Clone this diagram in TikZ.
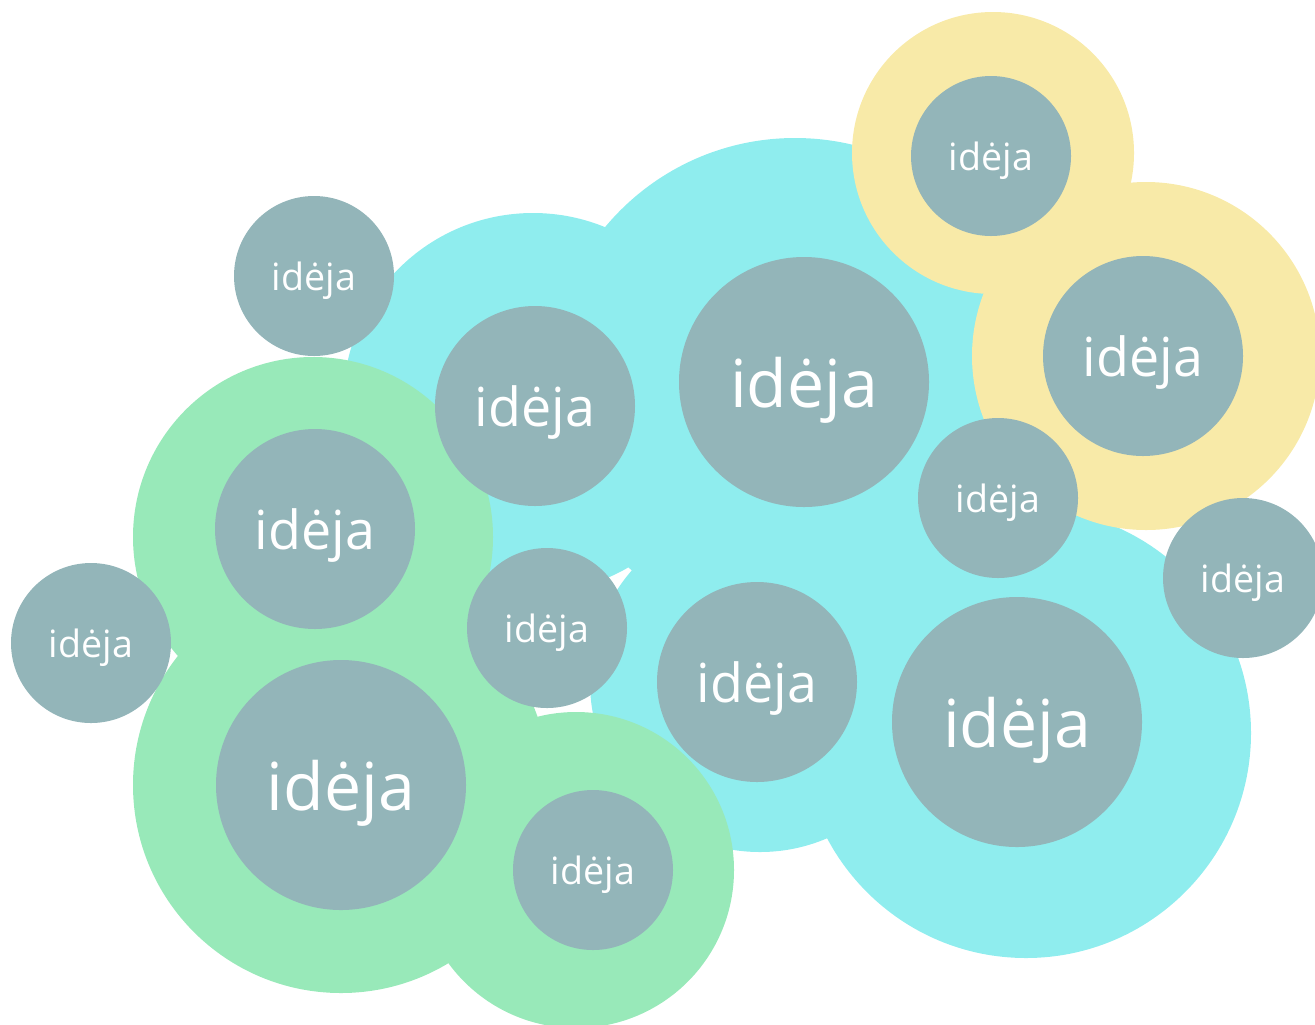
\documentclass[tikz,border=0pt]{standalone}
\usepackage{fontspec}
\setmainfont{Open Sans}
\usetikzlibrary{positioning}

\definecolor{ideagrey}{RGB}{147,181,185}
\definecolor{cloudcyan}{RGB}{143,237,238}
\definecolor{cloudgreen}{RGB}{152,233,185}
\definecolor{cloudyellow}{RGB}{248,234,168}

\begin{document}
\begin{tikzpicture}[x=0.5pt, y=-0.5pt,
    blob/.style={circle, inner sep=0pt, outer sep=0pt},
    cyanblob/.style={blob, fill=cloudcyan},
    greenblob/.style={blob, fill=cloudgreen},
    yellowblob/.style={blob, fill=cloudyellow},
    idea/.style={circle, fill=ideagrey, text=white, inner sep=0pt, text depth=0pt},
    ideaS/.style={idea, minimum size=160pt*0.5, font=\fontsize{18.8}{20}\selectfont},
    ideaM/.style={idea, minimum size=200pt*0.5, font=\fontsize{26.9}{28}\selectfont},
    ideaL/.style={idea, minimum size=250pt*0.5, font=\fontsize{33.1}{35}\selectfont}]
    \useasboundingbox (0,0) rectangle (1315,1024);
    \clip (0,0) rectangle (1315,1024);
    % cyan cloud
    \node[cyanblob, minimum size=247pt] (c1) at (795,385) {};
    \node[cyanblob, minimum size=190pt] (c2) at (533,403) {};
    \node[cyanblob, minimum size=170pt] (c3) at (760,682) {};
    \node[cyanblob, minimum size=225pt] (c4) at (1026,733) {};
    % yellow and green groups
    \node[yellowblob, minimum size=141pt] (y1) at (993,153) {};
    \node[yellowblob, minimum size=174pt] (y2) at (1146,356) {};
    \node[greenblob, minimum size=180pt] (g1) at (313,537) {};
    \node[greenblob, minimum size=208pt] (g2) at (341,785) {};
    \node[greenblob, minimum size=158pt] (g3) at (576,870) {};
    % ideas
    \node[ideaS] (top) at (314,276) {idėja};
    \node[ideaS] (left) at (91,643) {idėja};
    \node[ideaS] (mid) at (547,628) {idėja};
    \node[ideaS] (yel) at (991,156) {idėja};
    \node[ideaS] (inner) at (998,498) {idėja};
    \node[ideaS] (right) at (1243,578) {idėja};
    \node[ideaS] (bottom) at (593,870) {idėja};
    \node[ideaM] (cyanA) at (535,406) {idėja};
    \node[ideaM] (greenA) at (315,529) {idėja};
    \node[ideaM] (yelB) at (1143,356) {idėja};
    \node[ideaM] (cyanB) at (757,682) {idėja};
    \node[ideaL] (main) at (804,382) {idėja};
    \node[ideaL] (cyanC) at (1017,722) {idėja};
    \node[ideaL] (greenB) at (341,785) {idėja};
\end{tikzpicture}
\end{document}
